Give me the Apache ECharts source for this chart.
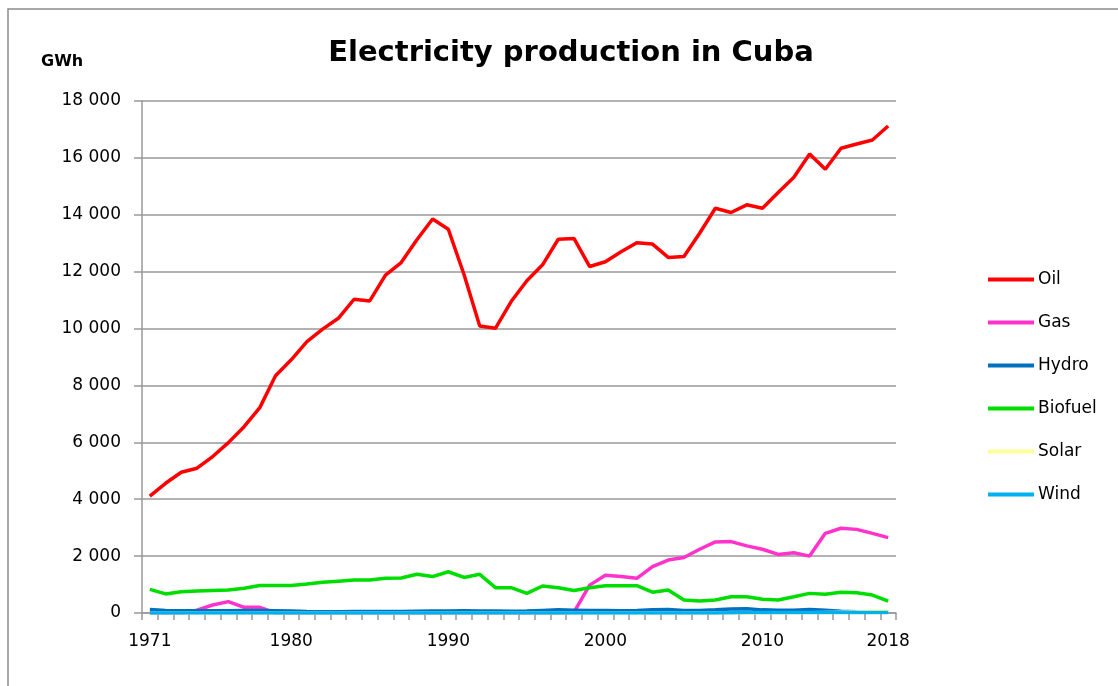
<!DOCTYPE html>
<html>
<head>
<meta charset="utf-8">
<title>Electricity production in Cuba</title>
<script src="https://cdn.jsdelivr.net/npm/echarts@6/dist/echarts.min.js"></script>
<style>
  html, body { margin: 0; padding: 0; background: #fff; }
  #chart { width: 1118px; height: 686px; }
</style>
</head>
<body>
<div id="chart"></div>
<script>
// years on the category axis
var years = [
  '1971', '1972', '1973', '1974', '1975', '1976', '1977', '1978', '1979', '1980',
  '1981', '1982', '1983', '1984', '1985', '1986', '1987', '1988', '1989', '1990',
  '1991', '1992', '1993', '1994', '1995', '1996', '1997', '1998', '1999', '2000',
  '2001', '2002', '2003', '2004', '2005', '2006', '2007', '2008', '2009', '2010',
  '2011', '2012', '2013', '2014', '2015', '2016', '2017', '2018'
]
// only these years get a label
var shownYears = ['1971', '1980', '1990', '2000', '2010', '2018']

// GWh
var oil = [
  4110, 4560, 4950, 5090, 5500, 5990, 6550, 7220, 8340, 8900,
  9540, 9980, 10360, 11030, 10970, 11880, 12320, 13120, 13850, 13490,
  11900, 10090, 10010, 10950, 11680, 12240, 13140, 13170, 12180, 12350,
  12700, 13020, 12970, 12500, 12530, 13350, 14230, 14080, 14350, 14230,
  14780, 15320, 16140, 15600, 16340, 16490, 16630, 17120
]
var gas = [
  0, 0, 0, 100, 280, 400, 200, 200, 0, 0,
  0, 0, 0, 0, 0, 0, 0, 0, 0, 0,
  0, 0, 0, 0, 0, 0, 0, 30, 980, 1330,
  1280, 1220, 1630, 1860, 1950, 2240, 2500, 2510, 2360, 2240,
  2060, 2120, 2000, 2800, 2980, 2940, 2800, 2650
]
var hydro = [
  120, 90, 80, 80, 80, 80, 90, 90, 80, 70,
  50, 40, 40, 50, 50, 50, 50, 60, 70, 70,
  80, 70, 70, 60, 70, 90, 110, 100, 90, 90,
  80, 90, 110, 120, 90, 90, 110, 140, 150, 110,
  100, 100, 120, 100, 60, 40, 40, 40
]
var biofuel = [
  830, 670, 750, 770, 790, 810, 870, 970, 970, 970,
  1020, 1080, 1120, 1160, 1160, 1220, 1230, 1360, 1280, 1450,
  1250, 1360, 890, 890, 690, 950, 890, 790, 890, 960,
  960, 960, 730, 810, 460, 420, 460, 570, 570, 480,
  460, 570, 690, 660, 730, 710, 630, 420
]
var solar = [
  0, 0, 0, 0, 0, 0, 0, 0, 0, 0,
  0, 0, 0, 0, 0, 0, 0, 0, 0, 0,
  0, 0, 0, 0, 0, 0, 0, 0, 0, 0,
  0, 0, 0, 0, 0, 0, 0, 0, 0, 0,
  0, 0, 10, 20, 30, 40, 60, 70
]
var wind = [
  0, 0, 0, 0, 0, 0, 0, 0, 0, 0,
  0, 0, 0, 0, 0, 0, 0, 0, 0, 0,
  0, 0, 0, 0, 0, 0, 0, 0, 0, 0,
  0, 0, 0, 0, 0, 0, 0, 10, 20, 20,
  20, 20, 20, 20, 20, 20, 20, 20
]

var chart = echarts.init(document.getElementById('chart'))

function line(name, data, color) {
  return {
    name: name,
    type: 'line',
    data: data,
    symbol: 'none',
    smooth: false,
    lineStyle: { color: color, width: 3.5 },
    itemStyle: { color: color },
    emphasis: { disabled: true }
  }
}

var option = {
  animation: false,
  backgroundColor: '#fff',
  textStyle: { fontFamily: 'DejaVu Sans' },
  title: {
    text: 'Electricity production in Cuba',
    left: 566,
    top: 34,
    textAlign: 'center',
    textStyle: {
      fontFamily: 'DejaVu Sans',
      fontWeight: 'bold',
      fontSize: 29,
      color: '#000'
    }
  },
  // the frame round the chart, only top and left edges show
  graphic: [
    {
      type: 'polyline',
      shape: { points: [[8, 686], [8, 9], [1118, 9]] },
      style: { stroke: '#8c8c8c', lineWidth: 1.5, fill: null }
    },
    {
      type: 'text',
      left: 41,
      top: 54,
      style: {
        text: 'GWh',
        fontFamily: 'DejaVu Sans',
        fontWeight: 'bold',
        fontSize: 16,
        fill: '#000'
      }
    }
  ],
  legend: {
    orient: 'vertical',
    left: 983,
    top: 266,
    itemWidth: 46,
    itemHeight: 4,
    itemGap: 26,
    icon: 'rect',
    textStyle: {
      fontFamily: 'DejaVu Sans',
      fontSize: 17,
      color: '#000',
      padding: [0, 0, 0, -1]
    },
    data: ['Oil', 'Gas', 'Hydro', 'Biofuel', 'Solar', 'Wind']
  },
  grid: {
    left: 142,
    right: 222,
    top: 101,
    bottom: 73
  },
  xAxis: {
    type: 'category',
    data: years,
    boundaryGap: true,
    axisLine: { lineStyle: { color: '#999999', width: 1.5 } },
    axisTick: {
      show: true,
      interval: 0,
      length: 7,
      lineStyle: { color: '#999999', width: 1.5 }
    },
    axisLabel: {
      interval: function(idx, value) {
        return shownYears.indexOf(value) >= 0
      },
      margin: 20,
      fontFamily: 'DejaVu Sans',
      fontSize: 17,
      color: '#000'
    },
    splitLine: { show: false }
  },
  yAxis: {
    type: 'value',
    min: 0,
    max: 18000,
    interval: 2000,
    axisLine: { show: true, lineStyle: { color: '#999999', width: 1.5 } },
    axisTick: { show: true, length: 8, lineStyle: { color: '#999999', width: 1.5 } },
    axisLabel: {
      margin: 21,
      fontFamily: 'DejaVu Sans',
      fontSize: 17,
      color: '#000',
      formatter: function(v) {
        return String(v).replace(/\B(?=(\d{3})+(?!\d))/g, ' ')
      }
    },
    splitLine: { lineStyle: { color: '#999999', width: 1.5 } }
  },
  series: [
    line('Oil', oil, '#ff0000'),
    line('Gas', gas, '#ff33cc'),
    line('Hydro', hydro, '#0070c0'),
    line('Biofuel', biofuel, '#00dd00'),
    line('Solar', solar, '#ffff99'),
    line('Wind', wind, '#00b0f0')
  ]
}
chart.setOption(option)
</script>
</body>
</html>
